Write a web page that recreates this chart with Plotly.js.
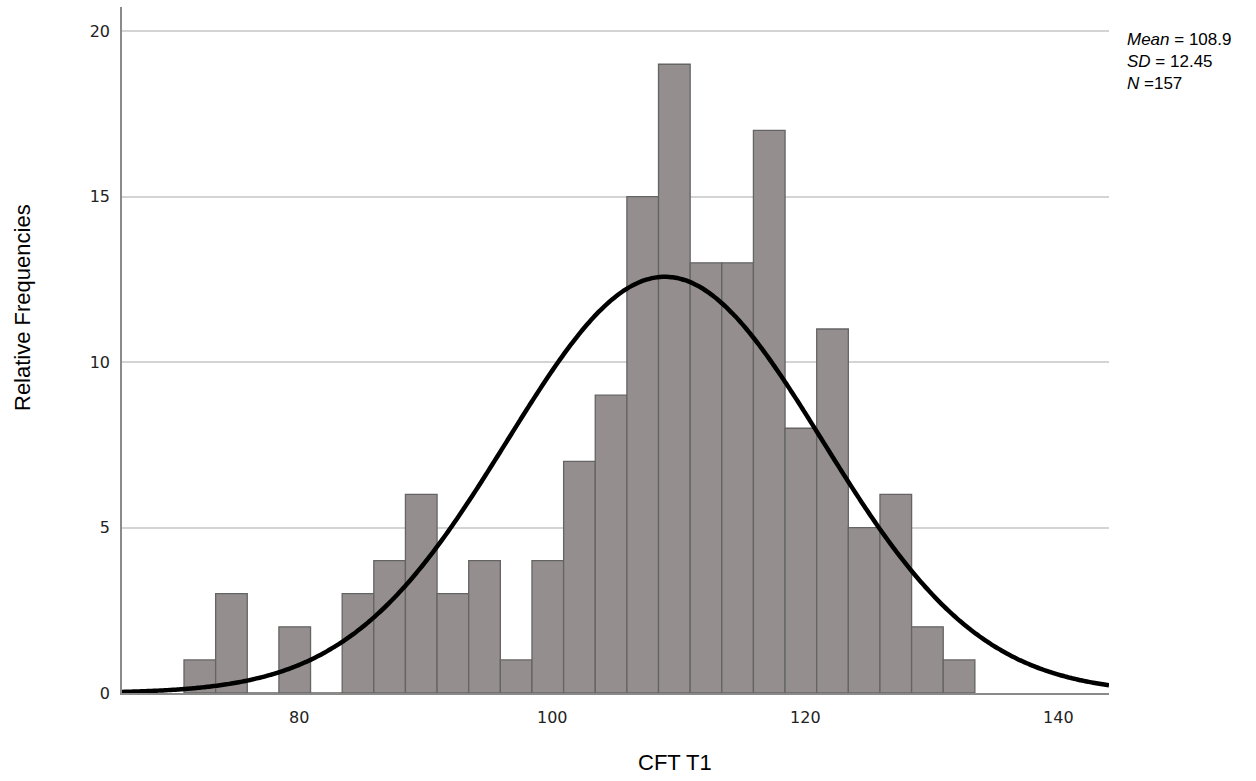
<!DOCTYPE html>
<html>
<head>
<meta charset="utf-8">
<script src="https://cdn.plot.ly/plotly-3.0.1.min.js"></script>
<style>
  html, body { margin: 0; padding: 0; background: #fff; }
  #chart { width: 1256px; height: 781px; }
</style>
</head>
<body>
<div id="chart"></div>
<script>
// ---- data ----
const binStart = 70.9;     // left edge of first bin
const binWidth = 2.5;      // bin width
const counts = [1, 3, 0, 2, 0, 3, 4, 6, 3, 4, 1, 4, 7, 9, 15, 19, 13, 13, 17, 8, 11, 5, 6, 2, 1];
const meanVal = 108.9;
const sdVal = 12.45;
const nVal = 157;
const xTicks = [80, 100, 120, 140];
const yTicks = [0, 5, 10, 15, 20];
const xRange = [66, 144];
const yRange = [0, 20.73];

// ---- derived ----
const centers = counts.map((c, i) => binStart + binWidth * (i + 0.5));
const curveX = [];
const curveY = [];
const scale = nVal * binWidth / (sdVal * Math.sqrt(2 * Math.PI));
for (let x = xRange[0]; x <= xRange[1] + 1e-9; x += 0.25) {
  curveX.push(x);
  curveY.push(scale * Math.exp(-0.5 * Math.pow((x - meanVal) / sdVal, 2)));
}

const bars = {
  type: 'bar',
  x: centers,
  y: counts,
  width: counts.map(() => binWidth),
  marker: { color: '#948f8e', line: { color: '#646464', width: 1.3 } },
  hoverinfo: 'x+y',
  showlegend: false
};
const curve = {
  type: 'scatter',
  mode: 'lines',
  x: curveX,
  y: curveY,
  line: { color: '#000000', width: 4.5, shape: 'spline' },
  hoverinfo: 'skip',
  showlegend: false
};

const W = 1256, H = 781;
const L = 122, R = 147, T = 7, B = 88;
const pw = W - L - R, ph = H - T - B;
const px = v => (v - L) / pw;
const py = v => (H - B - v) / ph;

const layout = {
  width: W, height: H,
  margin: { l: L, r: R, t: T, b: B, pad: 0 },
  paper_bgcolor: '#ffffff',
  plot_bgcolor: '#ffffff',
  bargap: 0,
  xaxis: {
    range: xRange,
    tickvals: xTicks,
    ticks: '',
    showgrid: false,
    zeroline: false,
    showline: true,
    linecolor: '#8a8a8a',
    linewidth: 1.5,
    ticklabelstandoff: 9,
    tickfont: { family: 'DejaVu Sans, sans-serif', size: 16, color: '#222' },
    fixedrange: true
  },
  yaxis: {
    range: yRange,
    tickvals: yTicks,
    ticks: '',
    showgrid: true,
    gridcolor: '#d4d4d4',
    gridwidth: 2,
    zeroline: false,
    showline: true,
    linecolor: '#8a8a8a',
    linewidth: 1.8,
    ticklabelstandoff: 7,
    tickfont: { family: 'DejaVu Sans, sans-serif', size: 16, color: '#222' },
    fixedrange: true
  },
  annotations: [
    { xref: 'paper', yref: 'paper', x: px(675), y: py(763), xanchor: 'center', yanchor: 'middle',
      text: 'CFT T1', showarrow: false,
      font: { family: 'Liberation Sans, Arial, sans-serif', size: 22, color: '#000' } },
    { xref: 'paper', yref: 'paper', x: px(22), y: py(308), xanchor: 'center', yanchor: 'middle',
      text: 'Relative Frequencies', textangle: -90, showarrow: false,
      font: { family: 'Liberation Sans, Arial, sans-serif', size: 22, color: '#000' } },
    { xref: 'paper', yref: 'paper', x: px(1125), y: py(28), xanchor: 'left', yanchor: 'top',
      align: 'left',
      text: '<i>Mean</i> = ' + meanVal.toFixed(1) + '<br><i>SD</i> = ' + sdVal.toFixed(2) +
            '<br><i>N</i> =' + nVal,
      showarrow: false,
      font: { family: 'Liberation Sans, Arial, sans-serif', size: 17, color: '#000' } }
  ]
};

Plotly.newPlot('chart', [bars, curve], layout, { displayModeBar: false, staticPlot: true });
</script>
</body>
</html>
